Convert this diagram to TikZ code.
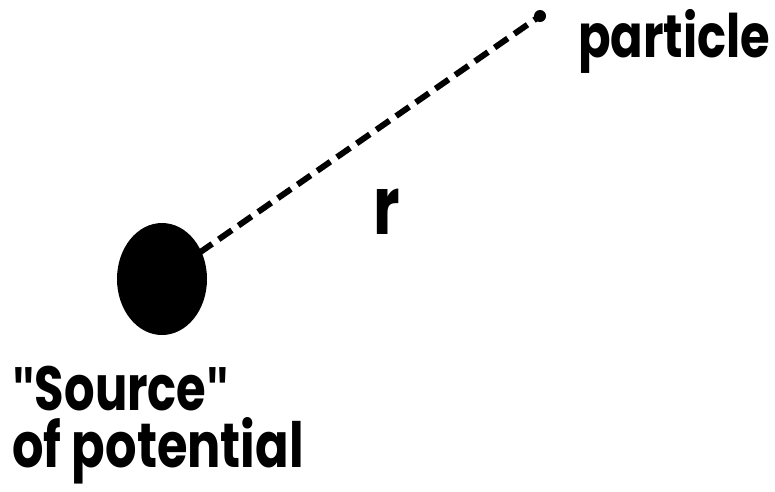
\documentclass[tikz,border=0pt]{standalone}
\usepackage{fontspec}
\setmainfont{Poppins}[BoldFont={* Bold}]
\newfontfamily\quotefont{Liberation Sans}
\newcommand{\qq}{{\quotefont\bfseries\symbol{34}}}
\begin{document}
\begin{tikzpicture}[x=1pt,y=-1pt,
  lbl/.style={font=\fontsize{48}{56}\selectfont\bfseries, inner sep=0pt, anchor=base west},
  dashline/.style={line width=6pt, dash pattern=on 16pt off 8pt}]
\useasboundingbox (0,0) rectangle (775,491);
\fill (162,279) ellipse [x radius=45, y radius=56];
\node[circle, fill, inner sep=0pt, minimum size=12pt] (p) at (540,16) {};
\coordinate (s) at (199,253);
\draw[dashline] (s) -- (p.center);
\node[lbl] (pl) at (578,57) {\scalebox{1}[1.25]{particle}};
\node[lbl, font=\fontsize{62}{70}\selectfont\bfseries] (r) at (373,234) {\scalebox{1}[1.3]{r}};
\node[lbl] (src) at (12,410) {\scalebox{1}[1.3]{\qq Source\qq}};
\node[lbl] (pot) at (12,467) {\scalebox{1.03}[1.3]{of potential}};
\end{tikzpicture}
\end{document}
